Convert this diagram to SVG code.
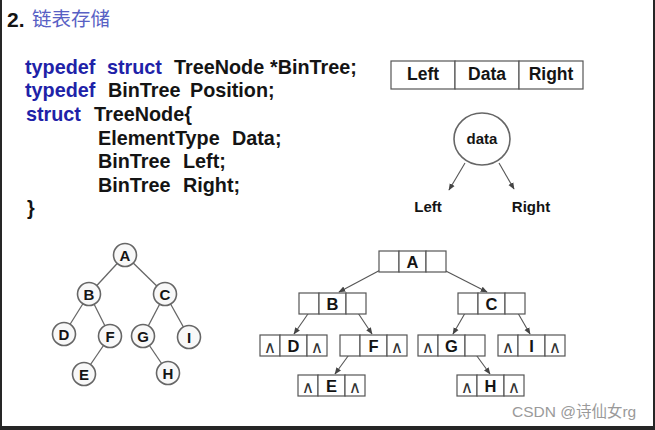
<svg xmlns="http://www.w3.org/2000/svg" width="655" height="430" viewBox="0 0 655 430">
<defs>
<style>
.bg{fill:#ffffff}
.frame{fill:#262626}
.code{font-family:"Liberation Sans",Arial,sans-serif;font-weight:bold;font-size:19.8px;fill:#141414}
.kw{fill:#1e22a8}
.lbl{font-family:"Liberation Sans",Arial,sans-serif;font-weight:bold;font-size:17.5px;fill:#141414;text-anchor:middle}
.sm{font-family:"Liberation Sans",Arial,sans-serif;font-weight:bold;font-size:15px;fill:#141414;text-anchor:middle}
.bx{font-family:"Liberation Sans",Arial,sans-serif;font-weight:bold;font-size:16.5px;fill:#141414;text-anchor:middle}
.cell{fill:#ffffff;stroke:#555;stroke-width:1.2}
.circ{fill:#f8f8f8;stroke:#666;stroke-width:1.6}
.edge{stroke:#666;stroke-width:1.3;fill:none}
.arr{stroke:#555;stroke-width:1.1;fill:none;marker-end:url(#ah)}
.nul{font-family:"DejaVu Sans",sans-serif;font-size:17px;fill:#333;text-anchor:middle}
</style>
<marker id="ah" viewBox="0 0 10 10" refX="9" refY="5" markerWidth="7" markerHeight="7" orient="auto" markerUnits="userSpaceOnUse">
<path d="M0,1 L10,5 L0,9 z" fill="#444"/>
</marker>
</defs>
<rect class="bg" x="0" y="0" width="655" height="430"/>
<rect class="frame" x="0" y="0" width="2" height="430"/>
<rect class="frame" x="653" y="0" width="2" height="430"/>
<rect class="frame" x="0" y="426" width="655" height="4"/>

<g id="title">
<text x="7" y="27" class="code" style="font-size:21px">2.</text>
<text x="32" y="26" style="font-family:'Noto Sans CJK SC',sans-serif;font-size:19.5px;fill:#5860c4">链表存储</text>
</g>

<g id="code" class="code">
<text y="74"><tspan x="25" class="kw">typedef</tspan><tspan x="107" class="kw">struct</tspan><tspan x="174">TreeNode</tspan><tspan x="270">*BinTree;</tspan></text>
<text y="97"><tspan x="25" class="kw">typedef</tspan><tspan x="108">BinTree</tspan><tspan x="190">Position;</tspan></text>
<text y="121"><tspan x="26" class="kw">struct</tspan><tspan x="94">TreeNode{</tspan></text>
<text y="145"><tspan x="98">ElementType</tspan><tspan x="232">Data;</tspan></text>
<text y="168"><tspan x="98">BinTree</tspan><tspan x="183">Left;</tspan></text>
<text y="192"><tspan x="98">BinTree</tspan><tspan x="183">Right;</tspan></text>
<text y="215"><tspan x="27">}</tspan></text>
</g>

<g id="node-layout">
<rect class="cell" x="391" y="61" width="64" height="28"/>
<rect class="cell" x="455" y="61" width="64" height="28"/>
<rect class="cell" x="519" y="61" width="64" height="28"/>
<text class="lbl" x="423" y="80">Left</text>
<text class="lbl" x="487" y="80">Data</text>
<text class="lbl" x="551" y="80">Right</text>
</g>

<g id="node-data">
<ellipse class="circ" cx="482" cy="139" rx="28" ry="26" style="fill:#fff"/>
<text class="sm" x="482" y="144">data</text>
</g>
<g id="label-left"><text class="sm" x="428" y="212">Left</text></g>
<g id="label-right"><text class="sm" x="531" y="212">Right</text></g>

<g id="connectors">
<line class="arr" x1="465" y1="163" x2="449" y2="190"/>
<line class="arr" x1="499" y1="163" x2="514" y2="189"/>
<line class="edge" x1="125" y1="255" x2="89" y2="294"/>
<line class="edge" x1="125" y1="255" x2="165" y2="294"/>
<line class="edge" x1="89" y1="294" x2="64" y2="334"/>
<line class="edge" x1="89" y1="294" x2="110" y2="336"/>
<line class="edge" x1="165" y1="294" x2="143" y2="336"/>
<line class="edge" x1="165" y1="294" x2="189" y2="337"/>
<line class="edge" x1="110" y1="336" x2="84" y2="374"/>
<line class="edge" x1="143" y1="336" x2="168" y2="373"/>
<line class="arr" x1="386" y1="267" x2="339" y2="292"/>
<line class="arr" x1="438" y1="267" x2="487" y2="292"/>
<line class="arr" x1="310" y1="311" x2="294" y2="334"/>
<line class="arr" x1="356" y1="310" x2="372" y2="334"/>
<line class="arr" x1="351" y1="352" x2="335" y2="374"/>
<line class="arr" x1="468" y1="308" x2="453" y2="334"/>
<line class="arr" x1="515" y1="308" x2="530" y2="334"/>
<line class="arr" x1="474" y1="352" x2="490" y2="374"/>
</g>

<g id="tree-A"><circle class="circ" cx="125" cy="255" r="11.5"/><text class="sm" x="125" y="260.5">A</text></g>
<g id="tree-B"><circle class="circ" cx="89" cy="294" r="11.5"/><text class="sm" x="89" y="299.5">B</text></g>
<g id="tree-C"><circle class="circ" cx="165" cy="294" r="11.5"/><text class="sm" x="165" y="299.5">C</text></g>
<g id="tree-D"><circle class="circ" cx="64" cy="334" r="11.5"/><text class="sm" x="64" y="339.5">D</text></g>
<g id="tree-F"><circle class="circ" cx="110" cy="336" r="11.5"/><text class="sm" x="110" y="341.5">F</text></g>
<g id="tree-G"><circle class="circ" cx="143" cy="336" r="11.5"/><text class="sm" x="143" y="341.5">G</text></g>
<g id="tree-I"><circle class="circ" cx="189" cy="337" r="11.5"/><text class="sm" x="189" y="342.5">I</text></g>
<g id="tree-E"><circle class="circ" cx="84" cy="374" r="11.5"/><text class="sm" x="84" y="379.5">E</text></g>
<g id="tree-H"><circle class="circ" cx="168" cy="373" r="11.5"/><text class="sm" x="168" y="378.5">H</text></g>

<g id="list-A" transform="translate(379,251)">
<rect class="cell" x="0" y="0" width="20" height="21"/><rect class="cell" x="20" y="0" width="27" height="21"/><rect class="cell" x="47" y="0" width="20" height="21"/>
<text class="bx" x="33.5" y="16.5">A</text>
</g>
<g id="list-B" transform="translate(299,293)">
<rect class="cell" x="0" y="0" width="20" height="21"/><rect class="cell" x="20" y="0" width="27" height="21"/><rect class="cell" x="47" y="0" width="20" height="21"/>
<text class="bx" x="33.5" y="16.5">B</text>
</g>
<g id="list-C" transform="translate(458,293)">
<rect class="cell" x="0" y="0" width="20" height="21"/><rect class="cell" x="20" y="0" width="27" height="21"/><rect class="cell" x="47" y="0" width="20" height="21"/>
<text class="bx" x="33.5" y="16.5">C</text>
</g>
<g id="list-D" transform="translate(260,335)">
<rect class="cell" x="0" y="0" width="20" height="21"/><rect class="cell" x="20" y="0" width="27" height="21"/><rect class="cell" x="47" y="0" width="20" height="21"/>
<text class="bx" x="33.5" y="16.5">D</text>
<text class="nul" x="10" y="18">∧</text><text class="nul" x="57" y="18">∧</text>
</g>
<g id="list-F" transform="translate(340,335)">
<rect class="cell" x="0" y="0" width="20" height="21"/><rect class="cell" x="20" y="0" width="27" height="21"/><rect class="cell" x="47" y="0" width="20" height="21"/>
<text class="bx" x="33.5" y="16.5">F</text>
<text class="nul" x="57" y="18">∧</text>
</g>
<g id="list-G" transform="translate(418,335)">
<rect class="cell" x="0" y="0" width="20" height="21"/><rect class="cell" x="20" y="0" width="27" height="21"/><rect class="cell" x="47" y="0" width="20" height="21"/>
<text class="bx" x="33.5" y="16.5">G</text>
<text class="nul" x="10" y="18">∧</text>
</g>
<g id="list-I" transform="translate(498,335)">
<rect class="cell" x="0" y="0" width="20" height="21"/><rect class="cell" x="20" y="0" width="27" height="21"/><rect class="cell" x="47" y="0" width="20" height="21"/>
<text class="bx" x="33.5" y="16.5">I</text>
<text class="nul" x="10" y="18">∧</text><text class="nul" x="57" y="18">∧</text>
</g>
<g id="list-E" transform="translate(298,375)">
<rect class="cell" x="0" y="0" width="20" height="21"/><rect class="cell" x="20" y="0" width="27" height="21"/><rect class="cell" x="47" y="0" width="20" height="21"/>
<text class="bx" x="33.5" y="16.5">E</text>
<text class="nul" x="10" y="18">∧</text><text class="nul" x="57" y="18">∧</text>
</g>
<g id="list-H" transform="translate(457,375)">
<rect class="cell" x="0" y="0" width="20" height="21"/><rect class="cell" x="20" y="0" width="27" height="21"/><rect class="cell" x="47" y="0" width="20" height="21"/>
<text class="bx" x="33.5" y="16.5">H</text>
<text class="nul" x="10" y="18">∧</text><text class="nul" x="57" y="18">∧</text>
</g>

<g id="watermark">
<text x="512" y="417" style="font-family:'Liberation Sans','Noto Sans CJK SC',sans-serif;font-size:15.5px;fill:#9a9a9a">CSDN @诗仙女rg</text>
</g>
</svg>
